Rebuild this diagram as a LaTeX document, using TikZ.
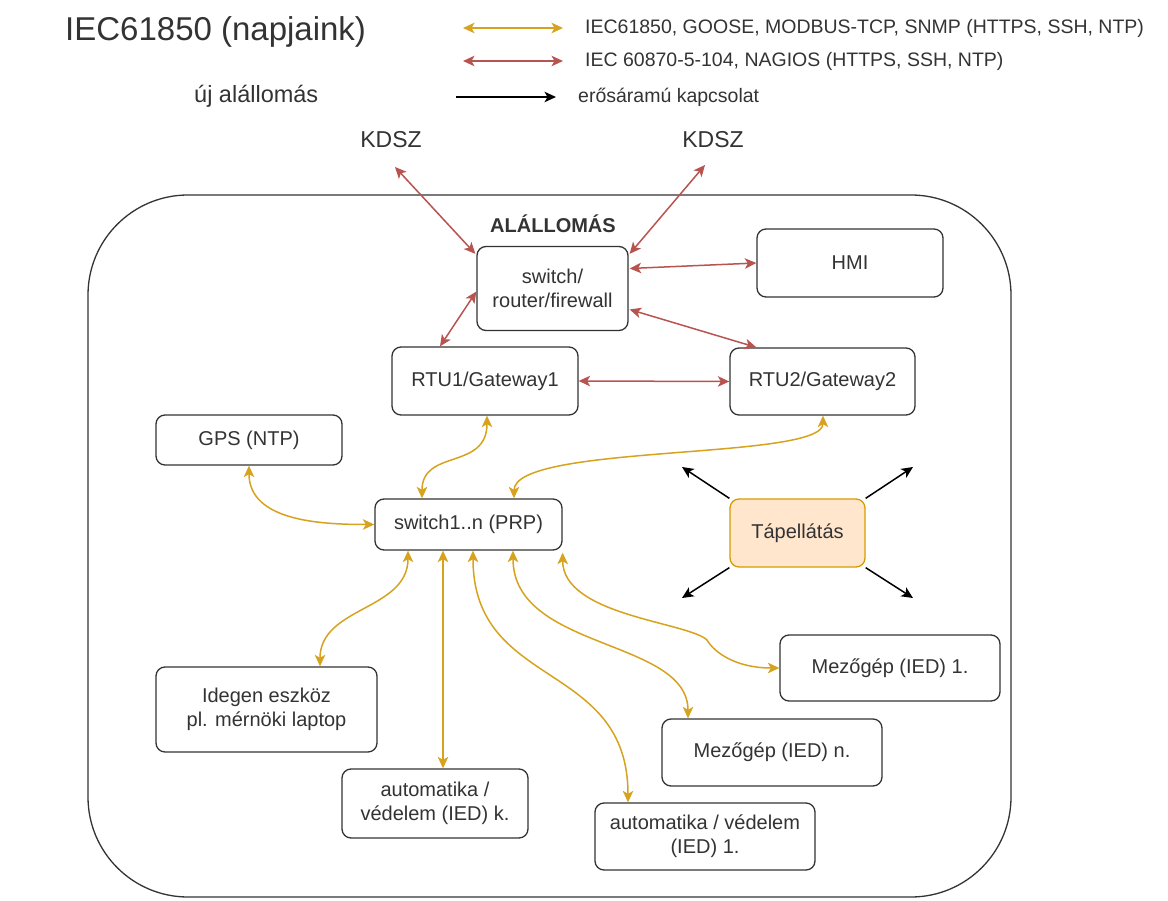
\documentclass[tikz,border=0pt]{standalone}
\usepackage{fontspec}
\setmainfont{Liberation Sans}
\usetikzlibrary{arrows.meta,calc}
\definecolor{ink}{HTML}{333333}
\definecolor{amber}{HTML}{D7A21E}
\definecolor{brick}{HTML}{B85450}
\definecolor{peach}{HTML}{FFE6CC}
\definecolor{peachedge}{HTML}{D79B00}
\begin{document}
\begin{tikzpicture}[x=1pt,y=-1pt,
  >={Stealth[length=11.5pt,width=10.5pt,inset=3pt]},
  every node/.style={text=ink, font=\fontsize{20}{24}\selectfont},
  box/.style={draw=ink, line width=1.3pt, rounded corners=9pt, fill=white, align=center, inner sep=0pt},
  plain/.style={inner sep=0pt},
  amberlink/.style={draw=amber, line width=1.5pt, <->},
  bricklink/.style={draw=brick, line width=1.5pt, <->},
  powerlink/.style={draw=black, line width=1.5pt, ->},
]
\useasboundingbox (0,0) rectangle (1168,901);

% substation outline
\node[draw=ink, line width=1.3pt, rounded corners=100pt, minimum width=923pt, minimum height=702pt, inner sep=0pt] (station) at (549.5,546) {};

% heading and legend
\node[plain, anchor=base west, font=\fontsize{33}{40}\selectfont] (title) at (65,41) {IEC61850 (napjaink)};
\node[plain, anchor=base west, font=\fontsize{23.5}{28}\selectfont] (subtitle) at (194,103) {új alállomás};

\node[plain, anchor=west, font=\fontsize{19.5}{23}\selectfont] (lgAmber) at (585,28) {IEC61850, GOOSE, MODBUS-TCP, SNMP (HTTPS, SSH, NTP)};
\node[plain, anchor=west, font=\fontsize{19.5}{23}\selectfont] (lgBrick) at (585,61) {IEC 60870-5-104, NAGIOS (HTTPS, SSH, NTP)};
\node[plain, anchor=west, font=\fontsize{19.5}{23}\selectfont] (lgPower) at (578,97) {erősáramú kapcsolat};
\coordinate (lgAmberL) at (463,28);
\coordinate (lgAmberR) at (563,28);
\coordinate (lgBrickL) at (463,61);
\coordinate (lgBrickR) at (563,61);
\coordinate (lgPowerL) at (456,97);
\coordinate (lgPowerR) at (556,97);
\draw[amberlink] (lgAmberL) -- (lgAmberR);
\draw[bricklink] (lgBrickL) -- (lgBrickR);
\draw[powerlink] (lgPowerL) -- (lgPowerR);

% external links
\node[plain, font=\fontsize{23}{28}\selectfont] (kdszL) at (391,140) {KDSZ};
\node[plain, font=\fontsize{23}{28}\selectfont] (kdszR) at (713,140) {KDSZ};
\node[plain, font=\bfseries\fontsize{20}{24}\selectfont] (stationLabel) at (553,223.5) {ALÁLLOMÁS};

% devices
\node[box, minimum width=151pt, minimum height=84pt] (swr) at (552.5,288.5) {switch/\\router/firewall};
\node[box, minimum width=186pt, minimum height=68pt] (hmi) at (850,263) {HMI};
\node[box, minimum width=186pt, minimum height=68pt] (rtu1) at (485,381) {RTU1/Gateway1};
\node[box, minimum width=185pt, minimum height=67pt] (rtu2) at (822.5,381.5) {RTU2/Gateway2};
\node[box, minimum width=186pt, minimum height=50pt] (gps) at (249,440) {GPS (NTP)};
\node[box, minimum width=187pt, minimum height=51pt] (sw1) at (468.5,524.5) {switch1..n (PRP)};
\node[box, draw=peachedge, fill=peach, minimum width=135pt, minimum height=68pt] (tap) at (797.5,533) {Tápellátás};
\node[box, minimum width=221pt, minimum height=85pt] (ideg) at (266.5,709.5) {Idegen eszköz\\pl. mérnöki laptop};
\node[box, minimum width=186pt, minimum height=69pt] (autK) at (435,803.5) {automatika /\\védelem (IED) k.};
\node[box, minimum width=220pt, minimum height=67pt] (autOne) at (705,836.5) {automatika / védelem\\(IED) 1.};
\node[box, minimum width=220pt, minimum height=67pt] (mezN) at (772,752.5) {Mezőgép (IED) n.};
\node[box, minimum width=220pt, minimum height=66pt] (mezOne) at (890,668) {Mezőgép (IED) 1.};

% IEC 60870-5-104 / NAGIOS links
\draw[bricklink] ($(kdszL.center)+(4,27)$) -- ($(swr.north west)+(-1,8)$);
\draw[bricklink] ($(kdszR.center)+(-8,25)$) -- ($(swr.north east)+(1,8)$);
\draw[bricklink] ($(swr.east)+(1,-20)$) -- (hmi.west);
\draw[bricklink] ($(swr.east)+(1,21)$) -- ($(rtu2.north west)+(27,0)$);
\draw[bricklink] ($(swr.west)+(0,3)$) -- ($(rtu1.north)+(-45,0)$);
\draw[bricklink] (rtu1.east) -- (rtu2.west);

% IEC61850 / GOOSE links
\draw[amberlink] ($(rtu1.south)+(2,0)$) .. controls +(0,55) and +(0,-50) .. ($(sw1.north)+(-46.5,0)$);
\draw[amberlink] ($(rtu2.south)+(0.5,0)$) .. controls +(0,45) and +(0,-55) .. ($(sw1.north)+(45.5,0)$);
\draw[amberlink] (gps.south) .. controls +(0,55) and +(-55,0) .. (sw1.west);
\draw[amberlink] ($(sw1.south)+(-60.5,0)$) .. controls +(0,60) and +(0,-60) .. ($(ideg.north)+(53.5,0)$);
\draw[amberlink] ($(sw1.south)+(-25.5,0)$) -- ($(autK.north)+(8,0)$);
\draw[amberlink] ($(sw1.south)+(4.5,0)$) .. controls +(0,140) and +(0,-143) .. ($(autOne.north)+(-77,0)$);
\draw[amberlink] ($(sw1.south)+(44.5,0)$) .. controls +(0,100) and +(0,-80) .. ($(mezN.north)+(-84,0)$);
\draw[amberlink] ($(sw1.south east)+(0,2)$) .. controls +(0,63) and (688,622) .. (707,640) .. controls (714,652) and (735,668) .. (mezOne.west);

% power supply
\coordinate (pwNW) at (682,467);
\coordinate (pwNE) at (913,467);
\coordinate (pwSW) at (682,598);
\coordinate (pwSE) at (913,598);
\draw[powerlink] (tap.north west) -- (pwNW);
\draw[powerlink] (tap.north east) -- (pwNE);
\draw[powerlink] (tap.south west) -- (pwSW);
\draw[powerlink] (tap.south east) -- (pwSE);
\end{tikzpicture}
\end{document}
